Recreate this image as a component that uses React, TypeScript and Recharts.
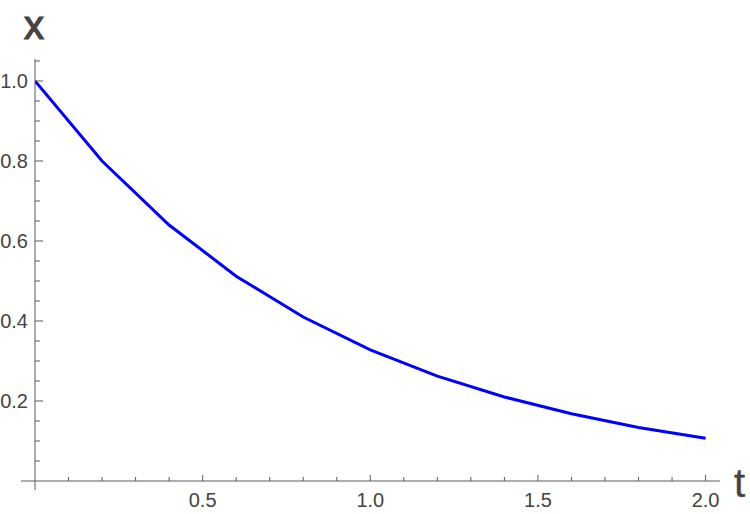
import { LineChart, Line, XAxis, YAxis, ReferenceLine } from "recharts";

const times = [0, 0.2, 0.4, 0.6, 0.8, 1.0, 1.2, 1.4, 1.6, 1.8, 2.0];
const xValues = [1.0, 0.8, 0.64, 0.512, 0.41, 0.328, 0.262, 0.21, 0.168, 0.134, 0.107];

const tTicks = [0.1, 0.2, 0.3, 0.4, 0.5, 0.6, 0.7, 0.8, 0.9, 1.0, 1.1, 1.2, 1.3, 1.4, 1.5, 1.6, 1.7, 1.8, 1.9, 2.0];
const tLabels = [0.5, 1.0, 1.5, 2.0];
const xTicks = [0.05, 0.1, 0.15, 0.2, 0.25, 0.3, 0.35, 0.4, 0.45, 0.5, 0.55, 0.6, 0.65, 0.7, 0.75, 0.8, 0.85, 0.9, 0.95, 1.0, 1.05];
const xLabels = [0.2, 0.4, 0.6, 0.8, 1.0];

const data = times.map((t, i) => ({ t, x: xValues[i] }));

const AXIS = "#5a5a5a";
const TEXT = "#444";
const FONT = "'Liberation Sans', Arial, sans-serif";

const isLabel = (list: number[], v: number) => list.some((l) => Math.abs(l - v) < 1e-6);

const BottomTick = (props: any) => {
  const { x, y, payload } = props;
  const major = isLabel(tLabels, payload.value);
  return (
    <g>
      <line x1={x} x2={x} y1={y} y2={y - (major ? 6 : 4)} stroke={AXIS} strokeWidth={1} />
      {major && (
        <text x={x} y={y + 26} textAnchor="middle" fill={TEXT} fontSize={20} fontFamily={FONT}>
          {payload.value.toFixed(1)}
        </text>
      )}
    </g>
  );
};

const LeftTick = (props: any) => {
  const { x, y, payload } = props;
  const major = isLabel(xLabels, payload.value);
  return (
    <g>
      <line x1={x} x2={x + (major ? 8 : 5)} y1={y} y2={y} stroke={AXIS} strokeWidth={1} />
      {major && (
        <text x={x - 7} y={y + 7} textAnchor="end" fill={TEXT} fontSize={20} fontFamily={FONT}>
          {payload.value.toFixed(1)}
        </text>
      )}
    </g>
  );
};

export default function App() {
  return (
    <div style={{ position: "absolute", left: 0, top: 0, width: 750, height: 514, background: "#fff" }}>
      <LineChart width={750} height={514} data={data} margin={{ top: 59, right: 30, bottom: 0, left: 0 }}>
        <XAxis
          dataKey="t"
          type="number"
          domain={[0, 2.043]}
          ticks={tTicks}
          interval={0}
          height={33}
          axisLine={false}
          tickLine={false}
          tickSize={0}
          tickMargin={0}
          tick={<BottomTick />}
          allowDataOverflow
        />
        <YAxis
          type="number"
          domain={[0, 1.055]}
          ticks={xTicks}
          interval={0}
          width={35}
          axisLine={false}
          tickLine={false}
          tickSize={0}
          tickMargin={0}
          tick={<LeftTick />}
          allowDataOverflow
        />
        <ReferenceLine
          segment={[{ x: -0.042, y: 0 }, { x: 2.043, y: 0 }]}
          stroke={AXIS}
          strokeWidth={1}
          ifOverflow="visible"
        />
        <ReferenceLine
          segment={[{ x: 0, y: -0.0225 }, { x: 0, y: 1.055 }]}
          stroke={AXIS}
          strokeWidth={1}
          ifOverflow="visible"
        />
        <Line
          type="linear"
          dataKey="x"
          stroke="#0000ff"
          strokeWidth={3}
          dot={false}
          isAnimationActive={false}
        />
      </LineChart>
      <div
        style={{
          position: "absolute",
          left: 24,
          top: 5,
          fontFamily: FONT,
          fontSize: 40,
          lineHeight: 1,
          color: TEXT,
          WebkitTextStroke: `1.2px ${TEXT}`,
        }}
      >
        x
      </div>
      <div
        style={{
          position: "absolute",
          left: 734,
          top: 463,
          fontFamily: FONT,
          fontSize: 40,
          lineHeight: 1,
          color: TEXT,
          WebkitTextStroke: `0.4px ${TEXT}`,
        }}
      >
        t
      </div>
    </div>
  );
}
